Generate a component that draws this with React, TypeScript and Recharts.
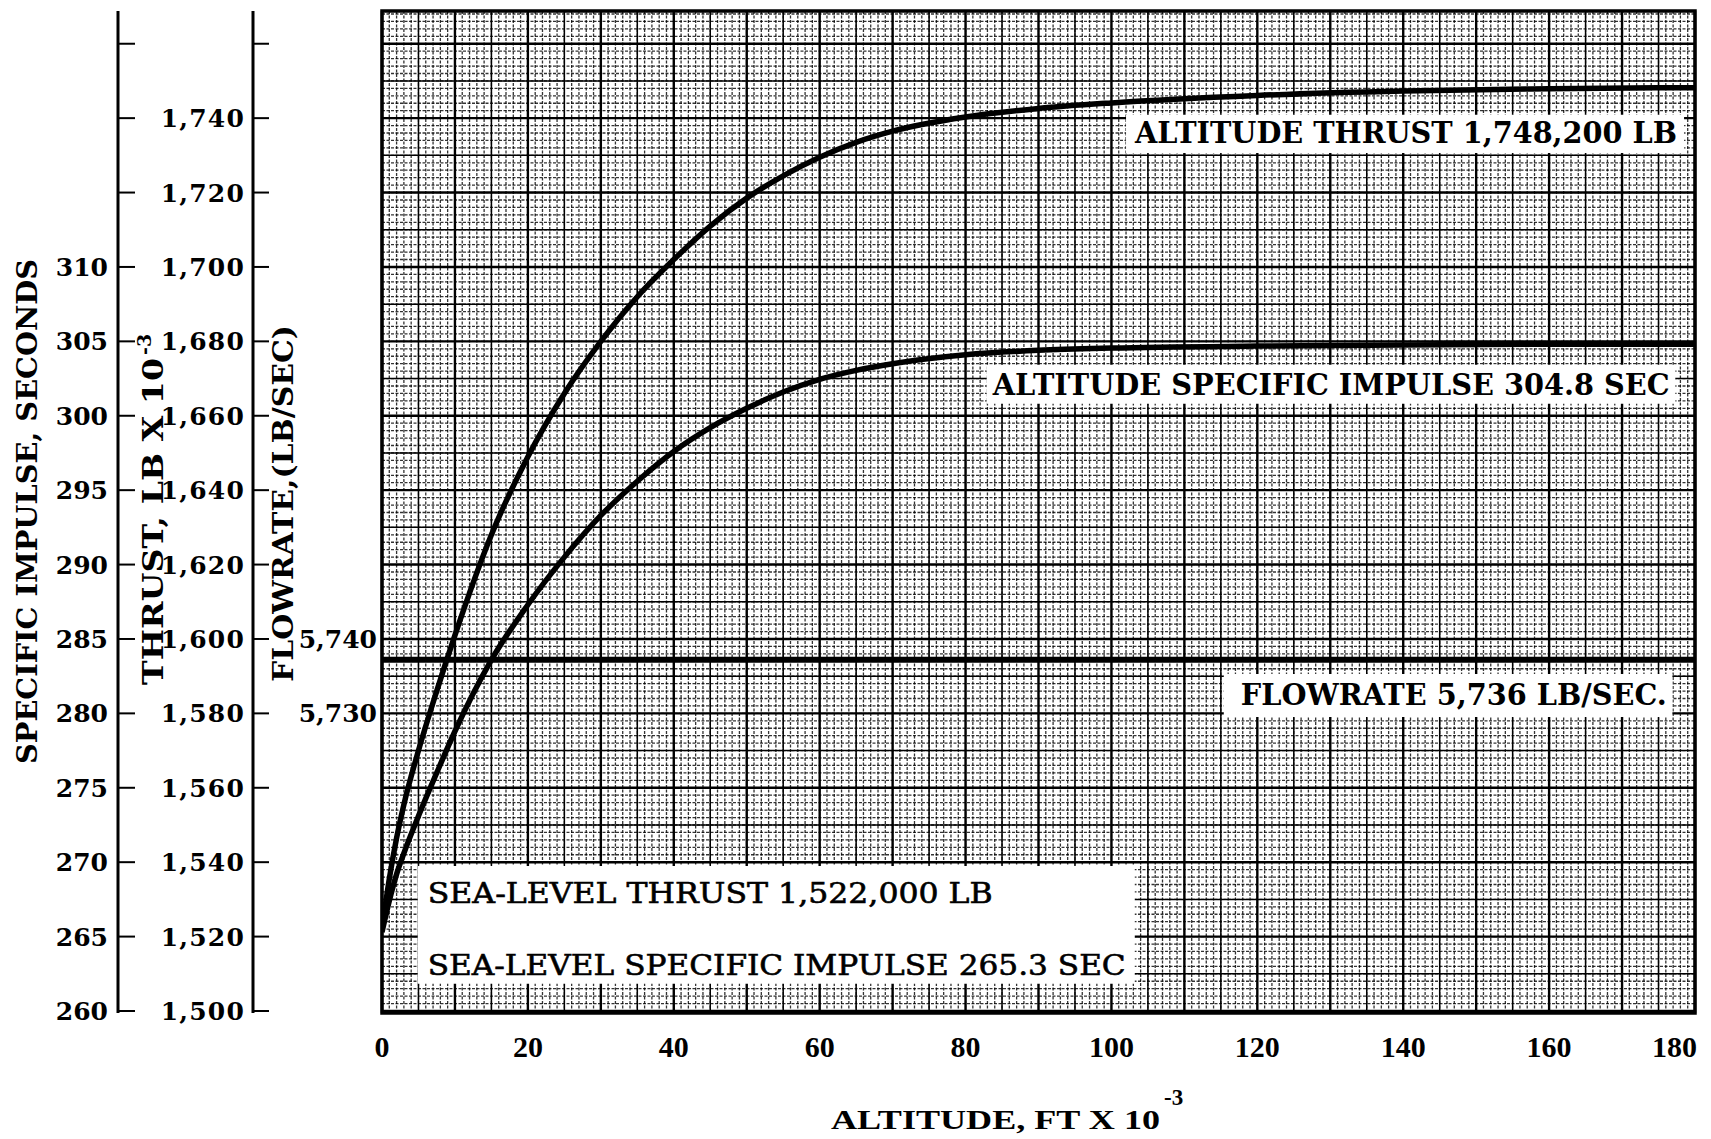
import {
  ComposedChart,
  Line,
  XAxis,
  YAxis,
  CartesianGrid,
  ReferenceArea,
} from "recharts";

// altitude, ft x 10^-3, where the thrust curve was read
const thrustAltitude = [0, 1, 2, 3, 5, 7.5, 10, 15, 20, 25, 30, 35, 40, 45, 50, 55, 60, 65, 70, 80, 90, 100, 120, 140, 160, 180];
// thrust, lb x 10^-3
const thrustValues = [1522, 1535.5, 1546.5, 1555.5, 1570, 1586, 1601, 1628, 1649, 1666, 1680, 1692, 1702, 1711, 1718.5, 1724.5, 1729.5, 1733.5, 1736.5, 1740.3, 1742.6, 1744.1, 1746.1, 1747.3, 1747.9, 1748.2];

// specific impulse curve, seconds
const ispAltitude = [0, 1, 2, 3, 5, 7.5, 10, 15, 20, 25, 30, 35, 40, 45, 50, 55, 60, 65, 70, 80, 90, 100, 120, 140, 160, 180];
const ispValues = [265.3, 267.4, 269.2, 270.6, 273.1, 276, 278.8, 283.6, 287.3, 290.5, 293.3, 295.6, 297.6, 299.2, 300.5, 301.6, 302.45, 303.05, 303.5, 304.1, 304.4, 304.55, 304.68, 304.75, 304.8, 304.8];

// flowrate, lb/sec (flat line)
const flowAltitude = [0, 180];
const flowValues = [5737.2, 5737.2];

const altTicks = [0, 20, 40, 60, 80, 100, 120, 140, 160, 180];
const ispTicks = [260, 265, 270, 275, 280, 285, 290, 295, 300, 305, 310, 315, 320, 325];
const thrustTicks = [1500, 1520, 1540, 1560, 1580, 1600, 1620, 1640, 1660, 1680, 1700, 1720, 1740, 1760];
const flowTicks = [5730, 5740];

// the three vertical scales share one position: 5 sec = 20 klb = 10 lb/sec
const T_MIN = 1499.46;
const T_MAX = 1768.8;
const toIsp = (t: number) => 260 + (t - 1500) / 4;
const toFlow = (t: number) => 5740 + (t - 1600) / 2;

const thrustData = thrustAltitude.map((alt, i) => ({ alt, thrust: thrustValues[i] }));
const ispData = ispAltitude.map((alt, i) => ({ alt, isp: ispValues[i] }));
const flowData = flowAltitude.map((alt, i) => ({ alt, flow: flowValues[i] }));

// graph paper
const range = (a: number, b: number, step: number) => {
  const out: number[] = [];
  for (let v = a; v <= b + 1e-9; v += step) out.push(+v.toFixed(3));
  return out;
};
const gridFineX = range(0, 180, 1);
const gridMidX = range(5, 175, 10);
const gridMajorX = range(0, 180, 10);
const gridFineY = range(1500, 1768, 2);
const gridMidY = range(1510, 1750, 20);
const gridMajorY = range(1500, 1760, 20);

const SERIF = "'DejaVu Serif', serif";
const NARROW = "'Liberation Serif', serif";

// white label boxes on the paper (altitude / thrust units)
const notes = [
  {
    x1: 102, x2: 178.5, y1: 1730.6, y2: 1740.9,
    lines: [{ text: "ALTITUDE THRUST 1,748,200 LB", dx: 9, dy: 28, len: 542, bold: true }],
  },
  {
    x1: 82.9, x2: 177.3, y1: 1663.2, y2: 1673.7,
    lines: [{ text: "ALTITUDE SPECIFIC IMPULSE 304.8 SEC", dx: 6, dy: 30, len: 677, bold: true }],
  },
  {
    x1: 115.4, x2: 176.9, y1: 1579.0, y2: 1590.6,
    lines: [{ text: "FLOWRATE 5,736 LB/SEC.", dx: 17, dy: 31, len: 426, bold: true }],
  },
  {
    x1: 4.9, x2: 103.2, y1: 1507.3, y2: 1539.0,
    lines: [
      { text: "SEA-LEVEL THRUST 1,522,000 LB", dx: 10, dy: 37, len: 565, bold: false },
      { text: "SEA-LEVEL SPECIFIC IMPULSE 265.3 SEC", dx: 10, dy: 109, len: 698, bold: false },
    ],
  },
];

const noteLabel = (lines: typeof notes[number]["lines"]) => (props: any) => {
  const vb = props.viewBox;
  return (
    <g>
      {lines.map((l) => (
        <text
          key={l.text}
          x={vb.x + l.dx}
          y={vb.y + l.dy}
          fontFamily={SERIF}
          fontWeight={l.bold ? "bold" : "normal"}
          fontSize={l.bold ? 29 : 28}
          fill="#000"
          stroke={l.bold ? "none" : "#000"}
          strokeWidth={l.bold ? 0 : 0.6}
          textLength={l.len}
          lengthAdjust="spacingAndGlyphs"
        >
          {l.text}
        </text>
      ))}
    </g>
  );
};

const rotTitle =
  (dx: number, dy: number, text: string, len: number, size: number, sup?: string) =>
  (props: any) => {
    const vb = props.viewBox;
    const x = vb.x + dx;
    const y = vb.y + dy;
    const sx = x - 12;
    const sy = y - len - 3;
    return (
      <g>
        <text
          x={x}
          y={y}
          transform={`rotate(-90 ${x} ${y})`}
          fontFamily={SERIF}
          fontWeight="bold"
          fontSize={size}
          fill="#000"
          textLength={len}
          lengthAdjust="spacingAndGlyphs"
        >
          {text}
        </text>
        {sup && (
          <text
            x={sx}
            y={sy}
            transform={`rotate(-90 ${sx} ${sy})`}
            fontFamily={SERIF}
            fontWeight="bold"
            fontSize={19}
            fill="#000"
          >
            {sup}
          </text>
        )}
      </g>
    );
  };

const altTitle = (props: any) => {
  const vb = props.viewBox;
  const x = vb.x + 449;
  const y = vb.y + 116;
  return (
    <g>
      <text x={x} y={y} fontFamily={NARROW} fontWeight="bold" fontSize={28} fill="#000" textLength={329} lengthAdjust="spacingAndGlyphs">
        ALTITUDE, FT X 10
      </text>
      <text x={x + 333} y={y - 24} fontFamily={NARROW} fontWeight="bold" fontSize={23} fill="#000">
        -3
      </text>
    </g>
  );
};

const AltTick = ({ x, y, payload }: any) => (
  <text
    x={payload.value === 180 ? x + 2 : x}
    y={y + 44}
    textAnchor={payload.value === 180 ? "end" : "middle"}
    fontFamily={NARROW}
    fontWeight="bold"
    fontSize={30}
    fill="#000"
  >
    {payload.value}
  </text>
);

const IspTick = ({ x, y, payload }: any) =>
  payload.value > 310 ? (
    <g />
  ) : (
    <text x={x} y={y} dy="0.36em" textAnchor="end" fontFamily={SERIF} fontWeight="bold" fontSize={25} fill="#000">
      {payload.value}
    </text>
  );

const ThrustTick = ({ x, y, payload }: any) =>
  payload.value > 1740 ? (
    <g />
  ) : (
    <text x={x} y={y} dy="0.36em" textAnchor="end" fontFamily={SERIF} fontWeight="bold" fontSize={25} letterSpacing={1.2} fill="#000">
      {payload.value.toLocaleString("en-US")}
    </text>
  );

const FlowTick = ({ x, y, payload }: any) => (
  <text x={x} y={y} dy="0.36em" textAnchor="end" fontFamily={SERIF} fontWeight="bold" fontSize={25} fill="#000">
    {payload.value.toLocaleString("en-US")}
  </text>
);

// axis ids are ordered so the stack reads isp | thrust | flow | plot
export default function App() {
  return (
    <div style={{ position: "absolute", left: 0, top: 0, background: "#fff" }}>
      <ComposedChart width={1711} height={1139} margin={{ top: 11, right: 16, bottom: 0, left: 0 }}>
        <XAxis
          xAxisId="alt"
          type="number"
          dataKey="alt"
          domain={[0, 180]}
          ticks={altTicks}
          interval={0}
          allowDataOverflow
          height={126}
          axisLine={false}
          tickLine={false}
          tickSize={0}
          tickMargin={0}
          tick={<AltTick />}
          label={altTitle}
        />
        <YAxis
          yAxisId="a_flow"
          orientation="left"
          type="number"
          width={129}
          domain={[toFlow(T_MIN), toFlow(T_MAX)]}
          allowDataOverflow
          ticks={flowTicks}
          interval={0}
          axisLine={false}
          tickLine={false}
          tickSize={0}
          tickMargin={5}
          tick={<FlowTick />}
          label={rotTitle(40, 671, "FLOWRATE,(LB/SEC)", 357, 27)}
        />
        <YAxis
          yAxisId="b_thrust"
          orientation="left"
          type="number"
          width={135}
          domain={[T_MIN, T_MAX]}
          allowDataOverflow
          ticks={thrustTicks}
          interval={0}
          axisLine={{ stroke: "#000", strokeWidth: 3 }}
          tickLine={{ stroke: "#000", strokeWidth: 2 }}
          tickSize={-16}
          tickMargin={24}
          tick={<ThrustTick />}
          label={rotTitle(45, 674, "THRUST, LB X 10", 327, 28, "-3")}
        />
        <YAxis
          yAxisId="c_isp"
          orientation="left"
          type="number"
          width={118}
          domain={[toIsp(T_MIN), toIsp(T_MAX)]}
          allowDataOverflow
          ticks={ispTicks}
          interval={0}
          axisLine={{ stroke: "#000", strokeWidth: 3 }}
          tickLine={{ stroke: "#000", strokeWidth: 2 }}
          tickSize={-17}
          tickMargin={27}
          tick={<IspTick />}
          label={rotTitle(37, 753, "SPECIFIC IMPULSE, SECONDS", 505, 28)}
        />

        <CartesianGrid
          xAxisId="alt"
          yAxisId="b_thrust"
          horizontalValues={gridFineY}
          verticalValues={gridFineX}
          stroke="#000"
          strokeOpacity={0.8}
          strokeWidth={1.3}
          strokeDasharray="3 1.5"
        />
        <CartesianGrid
          xAxisId="alt"
          yAxisId="b_thrust"
          horizontalValues={gridMidY}
          verticalValues={gridMidX}
          stroke="#000"
          strokeWidth={1.5}
        />
        <CartesianGrid
          xAxisId="alt"
          yAxisId="b_thrust"
          horizontalValues={gridMajorY}
          verticalValues={gridMajorX}
          stroke="#000"
          strokeWidth={2.4}
        />

        {notes.map((n) => (
          <ReferenceArea
            key={n.lines[0].text}
            xAxisId="alt"
            yAxisId="b_thrust"
            x1={n.x1}
            x2={n.x2}
            y1={n.y1}
            y2={n.y2}
            fill="#fff"
            fillOpacity={1}
            stroke="none"
            ifOverflow="visible"
            label={noteLabel(n.lines)}
          />
        ))}

        <ReferenceArea
          xAxisId="alt"
          yAxisId="b_thrust"
          x1={0}
          x2={180}
          y1={T_MIN}
          y2={T_MAX}
          fill="none"
          stroke="#000"
          strokeWidth={3.5}
          ifOverflow="visible"
        />

        <Line
          xAxisId="alt"
          yAxisId="a_flow"
          data={flowData}
          dataKey="flow"
          type="linear"
          stroke="#000"
          strokeWidth={6}
          dot={false}
          isAnimationActive={false}
        />
        <Line
          xAxisId="alt"
          yAxisId="c_isp"
          data={ispData}
          dataKey="isp"
          type="monotone"
          stroke="#000"
          strokeWidth={5.5}
          dot={false}
          isAnimationActive={false}
        />
        <Line
          xAxisId="alt"
          yAxisId="b_thrust"
          data={thrustData}
          dataKey="thrust"
          type="monotone"
          stroke="#000"
          strokeWidth={5.5}
          dot={false}
          isAnimationActive={false}
        />
      </ComposedChart>
    </div>
  );
}
